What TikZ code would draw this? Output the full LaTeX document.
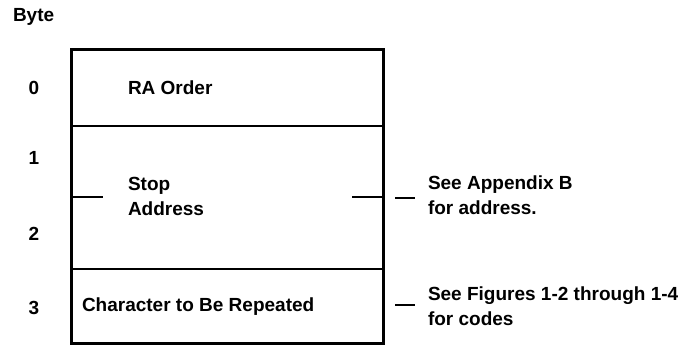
\documentclass[tikz,border=0pt]{standalone}
\usepackage{fontspec}
\setmainfont{Liberation Sans}
\begin{document}
\begin{tikzpicture}[x=1pt,y=-1pt,
  every node/.style={font=\bfseries\fontsize{19}{25}\selectfont, inner sep=0pt, outer sep=0pt},
  cell/.style={draw, line width=2pt, minimum width=312pt, anchor=north west, inner sep=0pt, outer sep=0pt},
  lbl/.style={anchor=west, align=left},
  num/.style={anchor=center},
  tick/.style={line width=2pt},
  dashmark/.style={line width=2.5pt}]
\useasboundingbox (0,0) rectangle (686,347);
% cells
\node[cell, minimum height=76pt] (r0) at (71,50) {};
\node[cell, minimum height=143pt] (r12) at (71,126) {};
\node[cell, minimum height=75pt] (r3) at (71,269) {};
\draw[line width=3pt] (r0.north west) rectangle (r3.south east);
% header and byte numbers
\node[anchor=west] (byte) at (13,17) {Byte};
\node[num] (b0) at (34,88) {0};
\node[num] (b1) at (34,158) {1};
\node[num] (b2) at (34,234) {2};
\node[num] (b3) at (34,308) {3};
% cell texts
\node[lbl] (ra) at (128,88) {RA Order};
\node[lbl] (stop) at (128,196) {Stop\\Address};
\node[lbl] (chr) at (82,307) {Character to Be Repeated};
% ticks
\coordinate (tl) at (103,197.5);
\coordinate (tr) at (352,197.5);
\draw[tick] (r12.west) -- (tl);
\draw[tick] (r12.east) -- (tr);
% notes
\coordinate (d1a) at (395,198);
\coordinate (d1b) at (415,198);
\coordinate (d2a) at (395,305);
\coordinate (d2b) at (415,305);
\draw[dashmark] (d1a) -- (d1b);
\draw[dashmark] (d2a) -- (d2b);
\node[lbl] (n1) at (428,195) {See Appendix B\\for address.};
\node[lbl] (n2) at (428,306) {See Figures 1-2 through 1-4\\for codes};
\end{tikzpicture}
\end{document}
